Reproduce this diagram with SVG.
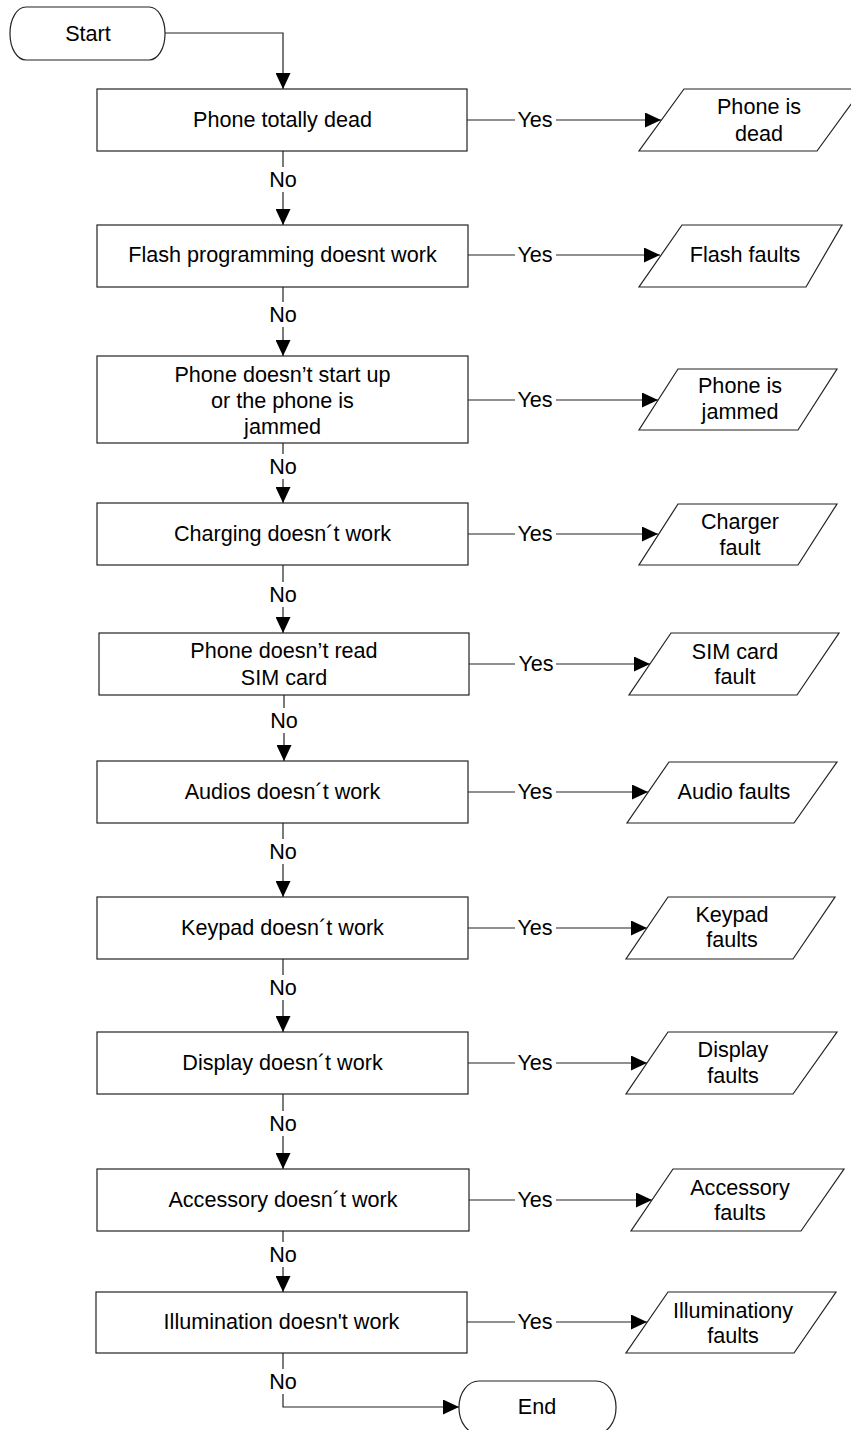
<svg xmlns="http://www.w3.org/2000/svg" width="851" height="1430" viewBox="0 0 851 1430">
<style>
.t{font-family:"Liberation Sans",Arial,sans-serif;font-size:21.6px;fill:#000;text-anchor:middle}
.s{fill:#fff;stroke:#222;stroke-width:1.2}
.c{fill:none;stroke:#222;stroke-width:1.2}
</style>
<defs>
<marker id="arr" viewBox="0 0 16 15" markerWidth="16" markerHeight="15" markerUnits="userSpaceOnUse" refX="16" refY="7.5" orient="auto">
<path d="M0,0 L16,7.5 L0,15 z" fill="#000"/>
</marker>
</defs>
<rect width="851" height="1430" fill="#fff"/>

<g id="connectors">
<path class="c" d="M165,33 H283 V89" marker-end="url(#arr)"/>
<path class="c" d="M283,151 V167"/>
<path class="c" d="M283,192 V225" marker-end="url(#arr)"/>
<path class="c" d="M283,287 V302"/>
<path class="c" d="M283,327 V356" marker-end="url(#arr)"/>
<path class="c" d="M283,443 V454"/>
<path class="c" d="M283,479 V503" marker-end="url(#arr)"/>
<path class="c" d="M283,565 V582"/>
<path class="c" d="M283,607 V633" marker-end="url(#arr)"/>
<path class="c" d="M284,695 V708"/>
<path class="c" d="M284,733 V761" marker-end="url(#arr)"/>
<path class="c" d="M283,823 V839"/>
<path class="c" d="M283,864 V897" marker-end="url(#arr)"/>
<path class="c" d="M283,959 V975"/>
<path class="c" d="M283,1000 V1032" marker-end="url(#arr)"/>
<path class="c" d="M283,1094 V1111"/>
<path class="c" d="M283,1136 V1169" marker-end="url(#arr)"/>
<path class="c" d="M283,1231 V1242"/>
<path class="c" d="M283,1267 V1292" marker-end="url(#arr)"/>
<path class="c" d="M283,1353 V1369"/>
<path class="c" d="M283,1394 V1407 H459" marker-end="url(#arr)"/>

<path class="c" d="M467,120 H515"/>
<path class="c" d="M556,120 H661" marker-end="url(#arr)"/>
<path class="c" d="M468,255 H515"/>
<path class="c" d="M556,255 H660" marker-end="url(#arr)"/>
<path class="c" d="M468,400 H515"/>
<path class="c" d="M556,400 H658" marker-end="url(#arr)"/>
<path class="c" d="M468,534 H515"/>
<path class="c" d="M556,534 H658" marker-end="url(#arr)"/>
<path class="c" d="M469,664 H515"/>
<path class="c" d="M556,664 H650" marker-end="url(#arr)"/>
<path class="c" d="M468,792 H515"/>
<path class="c" d="M556,792 H648" marker-end="url(#arr)"/>
<path class="c" d="M468,928 H515"/>
<path class="c" d="M556,928 H647" marker-end="url(#arr)"/>
<path class="c" d="M468,1063 H515"/>
<path class="c" d="M556,1063 H647" marker-end="url(#arr)"/>
<path class="c" d="M469,1200 H515"/>
<path class="c" d="M556,1200 H652" marker-end="url(#arr)"/>
<path class="c" d="M467,1322 H515"/>
<path class="c" d="M556,1322 H647" marker-end="url(#arr)"/>

<text class="t" x="283" y="187">No</text>
<text class="t" x="283" y="322">No</text>
<text class="t" x="283" y="474">No</text>
<text class="t" x="283" y="602">No</text>
<text class="t" x="284" y="728">No</text>
<text class="t" x="283" y="859">No</text>
<text class="t" x="283" y="995">No</text>
<text class="t" x="283" y="1131">No</text>
<text class="t" x="283" y="1262">No</text>
<text class="t" x="283" y="1389">No</text>

<text class="t" x="535" y="127">Yes</text>
<text class="t" x="535" y="262">Yes</text>
<text class="t" x="535" y="407">Yes</text>
<text class="t" x="535" y="541">Yes</text>
<text class="t" x="536" y="671">Yes</text>
<text class="t" x="535" y="799">Yes</text>
<text class="t" x="535" y="935">Yes</text>
<text class="t" x="535" y="1070">Yes</text>
<text class="t" x="535" y="1207">Yes</text>
<text class="t" x="535" y="1329">Yes</text>
</g>

<g id="start">
<rect class="s" x="10" y="7" width="155" height="53" rx="16" ry="26"/>
<text class="t" x="88" y="41">Start</text>
</g>

<g id="q1">
<rect class="s" x="97" y="89" width="370" height="62"/>
<text class="t" x="282.5" y="127">Phone totally dead</text>
</g>
<g id="r1">
<polygon class="s" points="684,89 862,89 817,151 639,151"/>
<text class="t" x="759" y="114">Phone is</text>
<text class="t" x="759" y="141">dead</text>
</g>

<g id="q2">
<rect class="s" x="97" y="225" width="371" height="62"/>
<text class="t" x="282.5" y="262">Flash programming doesnt work</text>
</g>
<g id="r2">
<polygon class="s" points="682,225 842,225 806,287 639,287"/>
<text class="t" x="745" y="262">Flash faults</text>
</g>

<g id="q3">
<rect class="s" x="97" y="356" width="371" height="87"/>
<text class="t" x="282.5" y="382">Phone doesn’t start up</text>
<text class="t" x="282.5" y="408">or the phone is</text>
<text class="t" x="282.5" y="434">jammed</text>
</g>
<g id="r3">
<polygon class="s" points="678,369 837,369 798,430 639,430"/>
<text class="t" x="740" y="393">Phone is</text>
<text class="t" x="740" y="419">jammed</text>
</g>

<g id="q4">
<rect class="s" x="97" y="503" width="371" height="62"/>
<text class="t" x="282.5" y="541">Charging doesn´t work</text>
</g>
<g id="r4">
<polygon class="s" points="678,504 837,504 798,565 639,565"/>
<text class="t" x="740" y="529">Charger</text>
<text class="t" x="740" y="555">fault</text>
</g>

<g id="q5">
<rect class="s" x="99" y="633" width="370" height="62"/>
<text class="t" x="284" y="658">Phone doesn’t read</text>
<text class="t" x="284" y="685">SIM card</text>
</g>
<g id="r5">
<polygon class="s" points="671,633 839,633 797,695 629,695"/>
<text class="t" x="735" y="659">SIM card</text>
<text class="t" x="735" y="684">fault</text>
</g>

<g id="q6">
<rect class="s" x="97" y="761" width="371" height="62"/>
<text class="t" x="282.5" y="799">Audios doesn´t work</text>
</g>
<g id="r6">
<polygon class="s" points="669,762 837,762 794,823 627,823"/>
<text class="t" x="734" y="799">Audio faults</text>
</g>

<g id="q7">
<rect class="s" x="97" y="897" width="371" height="62"/>
<text class="t" x="282.5" y="935">Keypad doesn´t work</text>
</g>
<g id="r7">
<polygon class="s" points="668,897 835,897 793,959 626,959"/>
<text class="t" x="732" y="922">Keypad</text>
<text class="t" x="732" y="947">faults</text>
</g>

<g id="q8">
<rect class="s" x="97" y="1032" width="371" height="62"/>
<text class="t" x="282.5" y="1070">Display doesn´t work</text>
</g>
<g id="r8">
<polygon class="s" points="668,1032 837,1032 793,1094 626,1094"/>
<text class="t" x="733" y="1057">Display</text>
<text class="t" x="733" y="1083">faults</text>
</g>

<g id="q9">
<rect class="s" x="97" y="1169" width="372" height="62"/>
<text class="t" x="283" y="1207">Accessory doesn´t work</text>
</g>
<g id="r9">
<polygon class="s" points="673,1169 844,1169 801,1231 631,1231"/>
<text class="t" x="740" y="1195">Accessory</text>
<text class="t" x="740" y="1220">faults</text>
</g>

<g id="q10">
<rect class="s" x="96" y="1292" width="371" height="61"/>
<text class="t" x="281.5" y="1329">Illumination doesn't work</text>
</g>
<g id="r10">
<polygon class="s" points="668,1292 836,1292 794,1353 626,1353"/>
<text class="t" x="733" y="1318">Illuminationy</text>
<text class="t" x="733" y="1343">faults</text>
</g>

<g id="end">
<rect class="s" x="459" y="1381" width="157" height="53" rx="20" ry="26"/>
<text class="t" x="537" y="1414">End</text>
</g>
</svg>
